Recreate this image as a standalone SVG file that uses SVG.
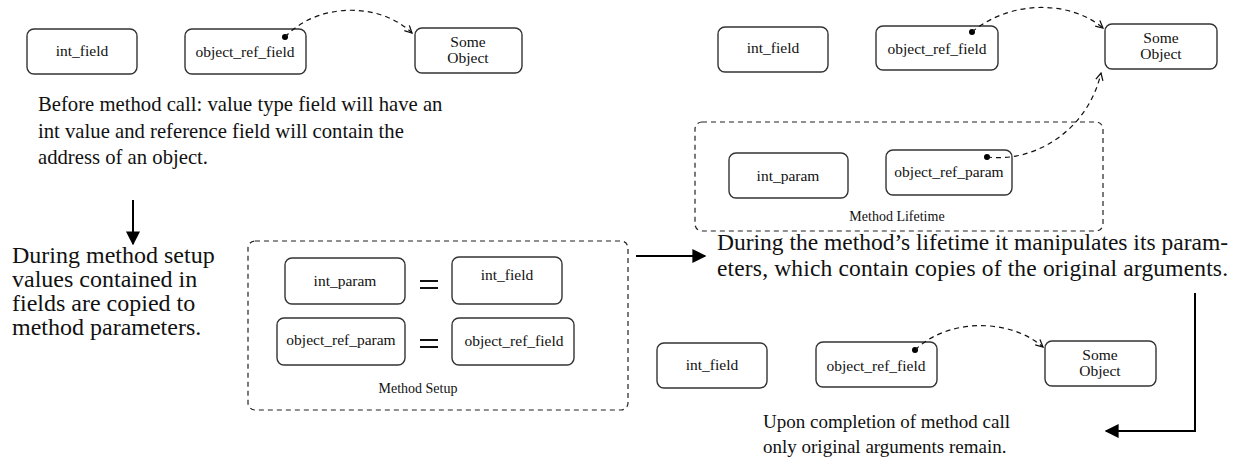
<svg xmlns="http://www.w3.org/2000/svg" width="1247" height="463" viewBox="0 0 1247 463">
  <style>
    .node rect { fill: #fff; stroke: #333; stroke-width: 1.4; }
    text { fill: #111; }
    .mid { text-anchor: middle; }
    .frame { fill: none; stroke: #222; stroke-width: 1.2; stroke-dasharray: 5 4; }
    .ref { fill: none; stroke: #111; stroke-width: 1.2; stroke-dasharray: 5 4; marker-end: url(#open); }
    .flow { fill: none; stroke: #000; stroke-width: 2; marker-end: url(#solid); }
    .dot { fill: #000; }
    .eq { stroke: #111; stroke-width: 2.2; }
  </style>
  <defs>
    <marker id="open" viewBox="0 0 10 10" refX="9" refY="5" markerWidth="9" markerHeight="9" markerUnits="userSpaceOnUse" orient="auto">
      <path d="M1,1 L9,5 L1,9" fill="none" stroke="#111" stroke-width="1.4"/>
    </marker>
    <marker id="solid" viewBox="0 0 10 10" refX="9" refY="5" markerWidth="14" markerHeight="14" markerUnits="userSpaceOnUse" orient="auto">
      <path d="M0,0 L10,5 L0,10 z" fill="#000"/>
    </marker>
  </defs>

  <!-- Before the call -->
  <g id="before-int-field" class="node">
    <rect x="27" y="29" width="110" height="45" rx="7"/>
    <text class="mid" x="82" y="56" style="font-family:'Liberation Serif',serif;font-size:15.5px">int_field</text>
  </g>
  <g id="before-object-ref-field" class="node">
    <rect x="185" y="29" width="121" height="45" rx="7"/>
    <text class="mid" x="245" y="57" style="font-family:'Liberation Serif',serif;font-size:15.5px">object_ref_field</text>
  </g>
  <g id="before-some-object" class="node">
    <rect x="415" y="28" width="107" height="45" rx="7"/>
    <text class="mid" x="468" y="47" style="font-family:'Liberation Serif',serif;font-size:15.5px">Some</text>
    <text class="mid" x="468" y="63" style="font-family:'Liberation Serif',serif;font-size:15.5px">Object</text>
  </g>
  <text x="38" y="111" style="font-family:'Liberation Serif',serif;font-size:20.7px">Before method call: value type field will have an</text>
  <text x="38" y="138" style="font-family:'Liberation Serif',serif;font-size:20.7px">int value and reference field will contain the</text>
  <text x="38" y="164" style="font-family:'Liberation Serif',serif;font-size:20.7px">address of an object.</text>

  <!-- Method setup -->
  <text x="12" y="263" style="font-family:'Liberation Serif',serif;font-size:24px">During method setup</text>
  <text x="12" y="287" style="font-family:'Liberation Serif',serif;font-size:24px">values contained in</text>
  <text x="12" y="311" style="font-family:'Liberation Serif',serif;font-size:24px">fields are copied to</text>
  <text x="12" y="335" style="font-family:'Liberation Serif',serif;font-size:24px">method parameters.</text>

  <g id="method-setup">
    <rect class="frame" x="248" y="241" width="380" height="169" rx="7"/>
    <text class="mid" x="418" y="393" style="font-family:'Liberation Serif',serif;font-size:14px">Method Setup</text>
  </g>
  <g id="setup-int-param" class="node">
    <rect x="285" y="258" width="120" height="46" rx="7"/>
    <text class="mid" x="345" y="286" style="font-family:'Liberation Serif',serif;font-size:15.5px">int_param</text>
  </g>
  <path class="eq" d="M420,281 H438 M420,288 H438"/>
  <g id="setup-int-field" class="node">
    <rect x="452" y="257" width="110" height="47" rx="7"/>
    <text class="mid" x="507" y="280" style="font-family:'Liberation Serif',serif;font-size:15.5px">int_field</text>
  </g>
  <g id="setup-object-ref-param" class="node">
    <rect x="277" y="318" width="128" height="47" rx="7"/>
    <text class="mid" x="341" y="345" style="font-family:'Liberation Serif',serif;font-size:15.5px">object_ref_param</text>
  </g>
  <path class="eq" d="M420,340 H438 M420,347 H438"/>
  <g id="setup-object-ref-field" class="node">
    <rect x="452" y="318" width="122" height="47" rx="7"/>
    <text class="mid" x="514" y="346" style="font-family:'Liberation Serif',serif;font-size:15.5px">object_ref_field</text>
  </g>

  <!-- During the method's lifetime -->
  <g id="life-int-field" class="node">
    <rect x="718" y="27" width="110" height="45" rx="7"/>
    <text class="mid" x="773" y="53" style="font-family:'Liberation Serif',serif;font-size:15.5px">int_field</text>
  </g>
  <g id="life-object-ref-field" class="node">
    <rect x="876" y="26" width="122" height="44" rx="7"/>
    <text class="mid" x="937" y="54" style="font-family:'Liberation Serif',serif;font-size:15.5px">object_ref_field</text>
  </g>
  <g id="life-some-object" class="node">
    <rect x="1105" y="24" width="112" height="45" rx="7"/>
    <text class="mid" x="1161" y="43" style="font-family:'Liberation Serif',serif;font-size:15.5px">Some</text>
    <text class="mid" x="1161" y="59" style="font-family:'Liberation Serif',serif;font-size:15.5px">Object</text>
  </g>
  <g id="method-lifetime">
    <rect class="frame" x="695" y="122" width="408" height="109" rx="7"/>
    <text class="mid" x="897" y="221" style="font-family:'Liberation Serif',serif;font-size:14px">Method Lifetime</text>
  </g>
  <g id="life-int-param" class="node">
    <rect x="729" y="153" width="119" height="45" rx="7"/>
    <text class="mid" x="788" y="181" style="font-family:'Liberation Serif',serif;font-size:15.5px">int_param</text>
  </g>
  <g id="life-object-ref-param" class="node">
    <rect x="886" y="150" width="126" height="45" rx="7"/>
    <text class="mid" x="949" y="177" style="font-family:'Liberation Serif',serif;font-size:15.5px">object_ref_param</text>
  </g>
  <text x="717" y="250" style="font-family:'Liberation Serif',serif;font-size:23.5px" textLength="511" lengthAdjust="spacing">During the method’s lifetime it manipulates its param-</text>
  <text x="717" y="276" style="font-family:'Liberation Serif',serif;font-size:23.5px" textLength="511" lengthAdjust="spacing">eters, which contain copies of the original arguments.</text>

  <!-- After the call -->
  <g id="after-int-field" class="node">
    <rect x="657" y="343" width="110" height="45" rx="7"/>
    <text class="mid" x="712" y="370" style="font-family:'Liberation Serif',serif;font-size:15.5px">int_field</text>
  </g>
  <g id="after-object-ref-field" class="node">
    <rect x="816" y="342" width="121" height="45" rx="7"/>
    <text class="mid" x="876" y="371" style="font-family:'Liberation Serif',serif;font-size:15.5px">object_ref_field</text>
  </g>
  <g id="after-some-object" class="node">
    <rect x="1045" y="341" width="111" height="45" rx="7"/>
    <text class="mid" x="1100" y="360" style="font-family:'Liberation Serif',serif;font-size:15.5px">Some</text>
    <text class="mid" x="1100" y="376" style="font-family:'Liberation Serif',serif;font-size:15.5px">Object</text>
  </g>
  <text x="763" y="428" style="font-family:'Liberation Serif',serif;font-size:19px">Upon completion of method call</text>
  <text x="763" y="453" style="font-family:'Liberation Serif',serif;font-size:19px">only original arguments remain.</text>

  <!-- Connectors -->
  <g id="connectors">
    <!-- references -->
    <circle class="dot" cx="285" cy="37" r="3"/>
    <path class="ref" d="M285,37 C318,2 380,2 412,33"/>
    <circle class="dot" cx="972" cy="32" r="3"/>
    <path class="ref" d="M972,32 C1010,0 1070,0 1103,28"/>
    <circle class="dot" cx="987" cy="157" r="3"/>
    <path class="ref" d="M987,157 C1035,163 1088,130 1101,73"/>
    <circle class="dot" cx="915" cy="350" r="3"/>
    <path class="ref" d="M915,350 C948,318 1010,318 1043,347"/>
    <!-- flow between stages -->
    <path class="flow" d="M133,200 L133,244"/>
    <path class="flow" d="M636,256 L705,256"/>
    <path class="flow" d="M1195,293 L1195,431 L1106,431"/>
  </g>
</svg>
